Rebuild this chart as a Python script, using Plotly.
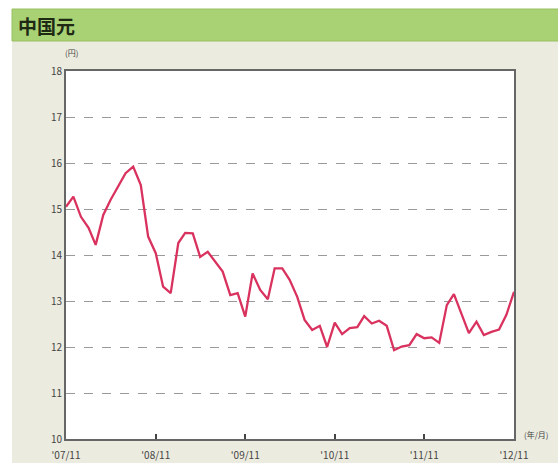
import pandas as pd
import plotly.graph_objects as go

# Monthly CNY rate in yen, Nov 2007 - Nov 2012
start_month = "2007-11-01"
end_month = "2012-11-01"
rates = [
    15.05, 15.27, 14.83, 14.59, 14.22, 14.87, 15.20, 15.48, 15.78, 15.92,
    15.52, 14.40, 14.04, 13.31, 13.17, 14.26, 14.48, 14.47, 13.96, 14.07,
    13.85, 13.64, 13.13, 13.17, 12.66, 13.60, 13.24, 13.04, 13.71, 13.71,
    13.46, 13.09, 12.59, 12.37, 12.46, 12.00, 12.53, 12.28, 12.41, 12.43,
    12.67, 12.51, 12.57, 12.46, 11.93, 12.01, 12.04, 12.28, 12.19, 12.21,
    12.09, 12.91, 13.15, 12.70, 12.30, 12.55, 12.26, 12.33, 12.38, 12.70,
    13.20,
]
tick_dates = ["2007-11-01", "2008-11-01", "2009-11-01", "2010-11-01", "2011-11-01", "2012-11-01"]
tick_labels = ["'07/11", "'08/11", "'09/11", "'10/11", "'11/11", "'12/11"]
y_ticks = [10, 11, 12, 13, 14, 15, 16, 17, 18]

months = pd.date_range(start_month, end_month, freq="MS")

W, H = 558, 463
L, R, T, B = 66, 514, 71, 439  # plot area in pixels


def px(x):
    return (x - L) / (R - L)


def py(y):
    return (B - y) / (B - T)


FONT = "Noto Sans CJK JP"

fig = go.Figure()
fig.add_trace(go.Scatter(
    x=months, y=rates, mode="lines",
    line=dict(color="#d9325f", width=2.3),
    hoverinfo="x+y",
))

shapes = [
    # white page edges outside the beige panel
    dict(type="rect", xref="paper", yref="paper", x0=px(0), x1=px(W), y0=py(9), y1=py(-5),
         fillcolor="white", line_width=0, layer="below"),
    dict(type="rect", xref="paper", yref="paper", x0=px(-5), x1=px(12), y0=py(H + 5), y1=py(-5),
         fillcolor="white", line_width=0, layer="below"),
    # green heading band
    dict(type="rect", xref="paper", yref="paper", x0=px(12), x1=px(W + 5), y0=py(41), y1=py(9),
         fillcolor="#a9d274", line=dict(color="#98c063", width=1), layer="below"),
]

annotations = [
    dict(text="<b>中国元</b>", xref="paper", yref="paper", x=px(16), y=py(25),
         xanchor="left", yanchor="middle", showarrow=False,
         font=dict(family=FONT, size=19, color="#1e2a14")),
    dict(text="(円)", xref="paper", yref="paper", x=px(71), y=py(53),
         xanchor="center", yanchor="middle", showarrow=False,
         font=dict(family=FONT, size=8, color="#444")),
    dict(text="(年/月)", xref="paper", yref="paper", x=px(536), y=py(434),
         xanchor="center", yanchor="middle", showarrow=False,
         font=dict(family=FONT, size=8, color="#444")),
]

fig.update_layout(
    width=W, height=H,
    margin=dict(l=L, r=W - R, t=T, b=H - B),
    paper_bgcolor="#ecebdf",
    plot_bgcolor="white",
    showlegend=False,
    shapes=shapes,
    annotations=annotations,
    font=dict(family=FONT, size=10, color="#333"),
)
fig.update_xaxes(
    range=[start_month, end_month],
    tickvals=tick_dates, ticktext=tick_labels,
    ticks="inside", ticklen=5, tickcolor="#444", tickwidth=1.5,
    ticklabelstandoff=6, automargin=False,
    showgrid=False, zeroline=False,
    showline=True, mirror=True, linecolor="#666", linewidth=2,
    tickfont=dict(size=10, color="#444"),
)
fig.update_yaxes(
    range=[10, 18], tickvals=y_ticks, automargin=False,
    showgrid=True, gridcolor="#9a9a9a", griddash="dash", gridwidth=1,
    zeroline=False, ticks="",
    showline=True, mirror=True, linecolor="#666", linewidth=2,
    tickfont=dict(size=10, color="#444"),
)

fig.write_html("out.html")
